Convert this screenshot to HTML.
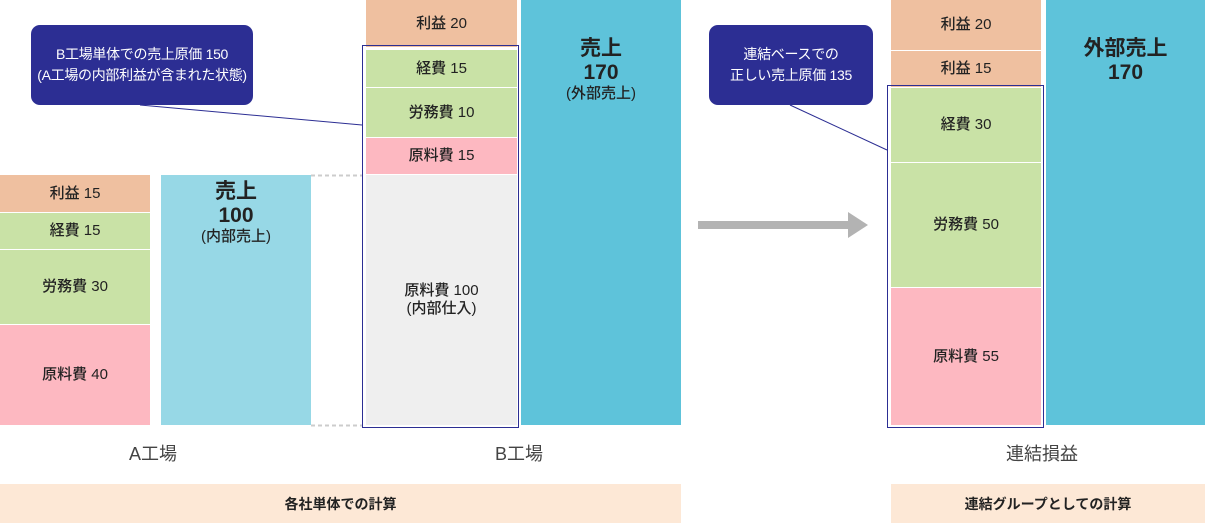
<!DOCTYPE html>
<html><head><meta charset="utf-8"><style>
body{margin:0;width:1205px;height:523px;position:relative;background:#fff;overflow:hidden;font-family:"Liberation Sans","Noto Sans CJK JP",sans-serif;color:#222}
.b{position:absolute;display:flex;flex-direction:column;align-items:center;justify-content:center;text-align:center;font-size:15px;line-height:18px;font-weight:500}
.o{background:#efc0a0}.g{background:#c9e2a6}.p{background:#fdb8c1}.gr{background:#efefef}.lb{background:#97d8e6}.db{background:#5ec3da}
.big{font-size:21px;line-height:24px;font-weight:bold}
.c{position:absolute;background:#2c2e93;color:#fff;border-radius:9px;display:flex;align-items:center;justify-content:center;text-align:center;font-size:14px;line-height:21px;white-space:nowrap;letter-spacing:-0.3px}
.frame{position:absolute;border:1.5px solid #2c2e93;box-sizing:border-box}
.lab{position:absolute;font-size:18px;color:#444}
.bar{position:absolute;background:#fde8d6;display:flex;align-items:center;justify-content:center;font-size:14px;font-weight:bold}
</style></head><body>
<div class="b o" style="left:0;top:175px;width:150px;height:37px">利益 15</div>
<div class="b g" style="left:0;top:213px;width:150px;height:36px">経費 15</div>
<div class="b g" style="left:0;top:250px;width:150px;height:74px">労務費 30</div>
<div class="b p" style="left:0;top:325px;width:150px;height:100px">原料費 40</div>
<div class="b lb" style="left:161px;top:175px;width:150px;height:250px;justify-content:flex-start"><div class="big" style="margin-top:5px">売上<br>100</div><div>(内部売上)</div></div>
<div class="b o" style="left:366px;top:0;width:151px;height:47px">利益 20</div>
<div class="b g" style="left:366px;top:50px;width:151px;height:37px">経費 15</div>
<div class="b g" style="left:366px;top:88px;width:151px;height:49px">労務費 10</div>
<div class="b p" style="left:366px;top:138px;width:151px;height:36px">原料費 15</div>
<div class="b gr" style="left:366px;top:175px;width:151px;height:250px">原料費 100<br>(内部仕入)</div>
<div class="frame" style="left:362px;top:45px;width:157px;height:383px"></div>
<div class="b db" style="left:521px;top:0;width:160px;height:425px;justify-content:flex-start"><div class="big" style="margin-top:37px">売上<br>170</div><div>(外部売上)</div></div>
<div class="b o" style="left:891px;top:0;width:150px;height:50px">利益 20</div>
<div class="b o" style="left:891px;top:51px;width:150px;height:36px">利益 15</div>
<div class="b g" style="left:891px;top:88px;width:150px;height:74px">経費 30</div>
<div class="b g" style="left:891px;top:163px;width:150px;height:124px">労務費 50</div>
<div class="b p" style="left:891px;top:288px;width:150px;height:137px">原料費 55</div>
<div class="frame" style="left:887px;top:85px;width:157px;height:343px"></div>
<div class="b db" style="left:1046px;top:0;width:159px;height:425px;justify-content:flex-start"><div class="big" style="margin-top:37px">外部売上<br>170</div></div>
<svg style="position:absolute;left:0;top:0" width="1205" height="523">
<line x1="311" y1="175.5" x2="362" y2="175.5" stroke="#ccc" stroke-width="2" stroke-dasharray="4,3"/>
<line x1="311" y1="425.5" x2="362" y2="425.5" stroke="#ccc" stroke-width="2" stroke-dasharray="4,3"/>
<line x1="140" y1="105" x2="362" y2="125" stroke="#2c2e93" stroke-width="1"/>
<line x1="790" y1="105" x2="887" y2="150" stroke="#2c2e93" stroke-width="1"/>
<rect x="698" y="221" width="152" height="8" fill="#b3b3b3"/>
<polygon points="848,212 868,225 848,238" fill="#b3b3b3"/>
</svg>
<div class="c" style="left:31px;top:25px;width:222px;height:80px">B工場単体での売上原価 150<br>(A工場の内部利益が含まれた状態)</div>
<div class="c" style="left:709px;top:25px;width:164px;height:80px">連結ベースでの<br>正しい売上原価 135</div>
<div class="lab" style="left:129px;top:440px">A工場</div>
<div class="lab" style="left:495px;top:440px">B工場</div>
<div class="lab" style="left:1006px;top:440px">連結損益</div>
<div class="bar" style="left:0;top:484px;width:681px;height:39px">各社単体での計算</div>
<div class="bar" style="left:891px;top:484px;width:314px;height:39px">連結グループとしての計算</div>
</body></html>
